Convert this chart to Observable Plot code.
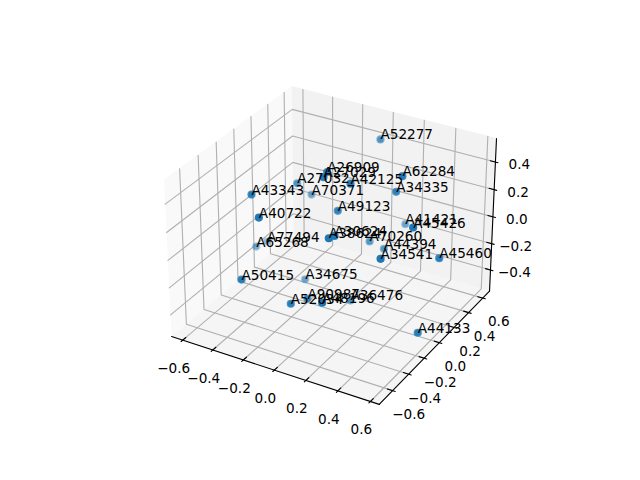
<!DOCTYPE html>
<html><head><meta charset="utf-8">
<script src="https://cdn.jsdelivr.net/npm/d3@7"></script>
<script src="https://cdn.jsdelivr.net/npm/@observablehq/plot@0.6"></script>
<style>html,body{margin:0;padding:0;background:#fff}svg{display:block}</style>
</head><body><div id="c"></div><script>
const names=["A52277","A62284","A34335","A26909","A27029","A27032","A42125","A43343","A70371","A49123","A40722","A41421","A45426","A77494","A65268","A50415","A34675","A52034","A48196","A90987","A36476","A38624","A30624","A70260","A44394","A34541","A45460","A44133"];
const xs=[.008,.351,.274,.016,.005,-.339,.165,-.362,-.352,.021,-.165,.160,.561,-.584,-.580,-.293,-.262,-.026,.265,-.052,.066,.210,.185,.076,.157,.475,.615,.615];
const ys=[.517,.103,.187,-.159,-.183,.139,-.166,-.351,.338,-.041,-.615,.555,-.188,.202,.064,-.603,.085,-.518,-.691,-.275,.034,-.508,-.394,.254,.279,-.409,.048,-.211];
const zs=[.456,.491,.316,.543,.515,.212,.511,.362,.027,.213,.394,-.141,.342,-.335,-.300,-.095,-.454,-.225,-.019,-.330,-.474,.317,.266,-.144,-.185,.210,.020,-.381];
const xLim=[-.648,.627],yLim=[-.735,.668],zLim=[-.54,.545];
const ticksXY=[-.6,-.4,-.2,0,.2,.4,.6],ticksZ=[-.4,-.2,0,.2,.4];
const lims=[xLim,yLim,zLim];
const az=-60*Math.PI/180,el=30*Math.PI/180,A=[8/7,8/7,6/7],R=A.map(a=>a/2);
const W=[Math.cos(el)*Math.cos(az),Math.cos(el)*Math.sin(az),Math.sin(el)];
const E=R.map((r,i)=>r+10*W[i]);
const cross=(a,b)=>[a[1]*b[2]-a[2]*b[1],a[2]*b[0]-a[0]*b[2],a[0]*b[1]-a[1]*b[0]];
let U=cross([0,0,1],W);const n=Math.hypot(...U);U=U.map(v=>v/n);const V=cross(W,U);
const dot=(a,b)=>a[0]*b[0]+a[1]*b[1]+a[2]*b[2];
function proj(p){const q=p.map((v,i)=>(v-lims[i][0])/(lims[i][1]-lims[i][0])*A[i]-E[i]);
const X=dot(U,q),Y=dot(V,q),Z=dot(W,q);
return [143.2+(X/-Z+.095)/.185*369.6,427.2-(Y/-Z+.095)/.185*369.6,Z];}
const pts3=names.map((_,i)=>[xs[i],ys[i],zs[i]]);
const pad=lims.map(l=>(l[1]-l[0])/48);
const lo=lims.map((l,i)=>l[0]-pad[i]),hi=lims.map((l,i)=>l[1]+pad[i]);
const P=a=>{const p=proj(a);return {px:p[0],py:p[1]}};
const poly=a=>a.map(P);
const panes=[
 {c:"#f9f9f9",p:poly([[lo[0],lo[1],lo[2]],[lo[0],hi[1],lo[2]],[lo[0],hi[1],hi[2]],[lo[0],lo[1],hi[2]]])},
 {c:"#f2f2f2",p:poly([[lo[0],hi[1],lo[2]],[hi[0],hi[1],lo[2]],[hi[0],hi[1],hi[2]],[lo[0],hi[1],hi[2]]])},
 {c:"#f5f5f5",p:poly([[lo[0],lo[1],lo[2]],[hi[0],lo[1],lo[2]],[hi[0],hi[1],lo[2]],[lo[0],hi[1],lo[2]]])}];
const grids=[...ticksXY.map(t=>poly([[t,lo[1],lo[2]],[t,hi[1],lo[2]],[t,hi[1],hi[2]]])),
 ...ticksXY.map(t=>poly([[hi[0],t,lo[2]],[lo[0],t,lo[2]],[lo[0],t,hi[2]]])),
 ...ticksZ.map(t=>poly([[hi[0],hi[1],t],[lo[0],hi[1],t],[lo[0],lo[1],t]]))];
const axes=[poly([[lo[0],lo[1],lo[2]],[hi[0],lo[1],lo[2]]]),poly([[hi[0],lo[1],lo[2]],[hi[0],hi[1],lo[2]]]),poly([[hi[0],hi[1],lo[2]],[hi[0],hi[1],hi[2]]])];
const rx=hi[0]-lo[0],ry=hi[1]-lo[1];
const tickM=[...ticksXY.map(t=>poly([[t,lo[1]-.012*ry,lo[2]],[t,lo[1]+.024*ry,lo[2]]])),
 ...ticksXY.map(t=>poly([[hi[0]+.012*rx,t,lo[2]],[hi[0]-.024*rx,t,lo[2]]])),
 ...ticksZ.map(t=>poly([[hi[0]+.012*rx,hi[1],t],[hi[0]-.024*rx,hi[1],t]]))];
const fmt=d3.format(".1f");const lab=t=>fmt(t).replace("-","\u2212");
const xL=ticksXY.map(t=>({...P([t,lo[1],lo[2]]),t:lab(t)})),yL=ticksXY.map(t=>({...P([hi[0],t,lo[2]]),t:lab(t)})),zL=ticksZ.map(t=>({...P([hi[0],hi[1],t]),t:lab(t)}));
const depth=pts3.map(p=>proj(p)[2]);const dn=d3.min(depth),dx=d3.max(depth);
const rows=names.map((name,i)=>({name,...P(pts3[i]),a:.3+.7*(depth[i]-dn)/(dx-dn)}));
const line=(d,o)=>Plot.line(d,{x:"px",y:"py",...o});
const fs=13.6;
const chart=Plot.plot({width:640,height:480,margin:0,style:{fontFamily:"DejaVu Sans",background:"#fff",overflow:"visible"},
 x:{domain:[0,640],range:[0,640],axis:null},y:{domain:[0,480],range:[0,480],axis:null},opacity:{domain:[0,1],range:[0,1]},
 marks:[
  ...panes.map(p=>line(p.p,{fill:p.c,stroke:p.c,strokeWidth:1,strokeLinejoin:"miter"})),
  ...grids.map(g=>line(g,{stroke:"#b0b0b0",strokeWidth:1.11,strokeLinejoin:"miter"})),
  ...axes.map(g=>line(g,{stroke:"#000",strokeWidth:1.11})),
  ...tickM.map(g=>line(g,{stroke:"#000",strokeWidth:1.11})),
  Plot.text(xL,{x:"px",y:"py",text:"t",dx:-9,dy:28.6,fontSize:fs,fill:"#000"}),
  Plot.text(yL,{x:"px",y:"py",text:"t",dx:16,dy:24,fontSize:fs,fill:"#000"}),
  Plot.text(zL,{x:"px",y:"py",text:"t",dx:24,dy:2.5,fontSize:fs,fill:"#000"}),
  Plot.dot(rows,{x:"px",y:"py",r:4.1,fill:"#1f77b4",stroke:"none",fillOpacity:"a"}),
  Plot.dot(rows,{x:"px",y:"py",r:3,fill:"#1f77b4",stroke:"none",fillOpacity:"a"}),
  Plot.text(rows,{x:"px",y:"py",text:"name",textAnchor:"start",lineAnchor:"bottom",fontSize:fs,fill:"#000"})
 ]});
document.getElementById("c").append(chart);
</script></body></html>
